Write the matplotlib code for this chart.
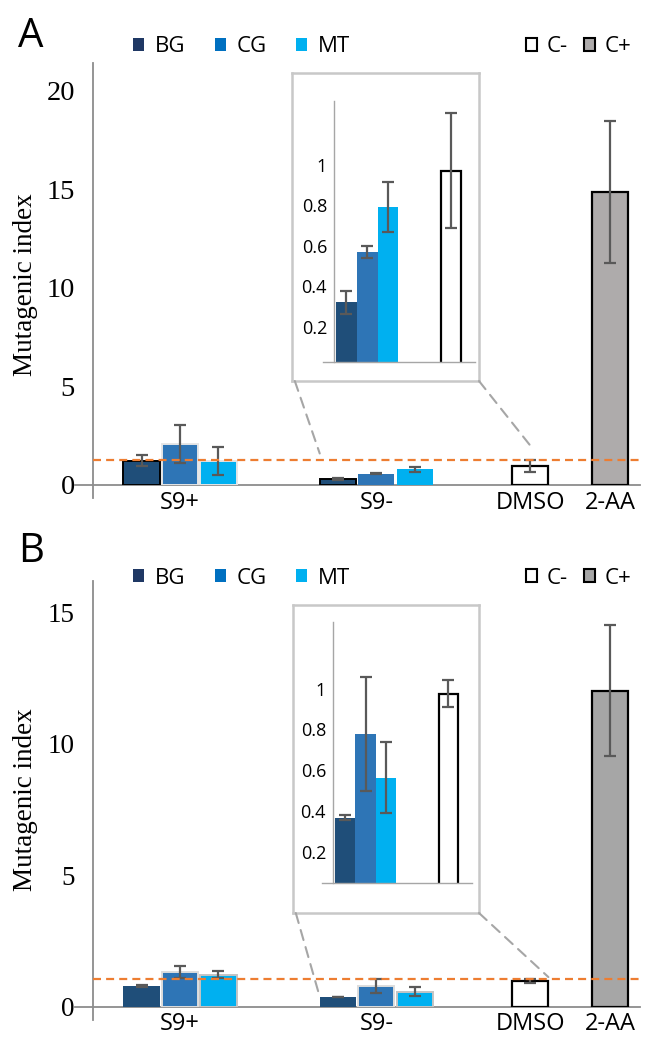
import matplotlib
matplotlib.use("Agg")
import matplotlib.pyplot as plt
from matplotlib.patches import Patch, ConnectionPatch

plt.rcParams["font.family"] = ["Open Sans", "DejaVu Sans"]
SERIF = "Liberation Serif"

W, H = 645, 1038

extracts = ["BG", "CG", "MT"]
categories = ["S9+", "S9-", "DMSO", "2-AA"]
inset_ticks = [0.2, 0.4, 0.6, 0.8, 1.0]
inset_ticklabels = ["0.2", "0.4", "0.6", "0.8", "1"]

# panel A
a_s9plus = [1.22, 2.08, 1.22]
a_s9plus_err = [0.28, 0.96, 0.72]
a_s9minus = [0.32, 0.57, 0.79]
a_s9minus_err = [0.056, 0.03, 0.124]
a_controls = [0.97, 14.87]          # DMSO (C-), 2-AA (C+)
a_controls_err = [0.285, 3.6]
a_threshold = 1.27
a_yticks = [0, 5, 10, 15, 20]

# panel B
b_s9plus = [0.79, 1.31, 1.21]
b_s9plus_err = [0.03, 0.22, 0.14]
b_s9minus = [0.367, 0.777, 0.563]
b_s9minus_err = [0.012, 0.28, 0.175]
b_controls = [0.976, 12.02]
b_controls_err = [0.065, 2.49]
b_threshold = 1.05
b_yticks = [0, 5, 10, 15]

bar_colors = ["#1f4e79", "#2e75b6", "#00b0f0"]
legend_colors = ["#1f3864", "#0070c0", "#00b0f0"]
err_kw = dict(ecolor="#595959", elinewidth=1.6, capsize=4.2, capthick=1.6)

group_x = [0.0, 5.1]
offsets = [-1.0, 0.0, 1.0]
ctrl_x = [9.1, 11.17]
width = 0.94
inset_x = [0, 1, 2]
inset_ctrl_x = 5.05


def px(left, top, right, bottom):
    return [left / W, 1 - bottom / H, (right - left) / W, (bottom - top) / H]


fig = plt.figure(figsize=(W / 100, H / 100), dpi=100)


def draw_panel(top, base, ymax, yticks, s9p, s9p_err, s9m, s9m_err, ctrl, ctrl_err,
               thr, pos_color, edges, frame_box, inset_box, inset_ylim,
               conn_left, conn_right, letter, letter_y, legend_y, label_y, tick_size):
    ax = fig.add_axes(px(93, top, 640, base))
    ax.set_xlim(-2.26, 11.95)
    ax.set_ylim(0, ymax)
    for spine in ax.spines.values():
        spine.set_visible(False)
    h = base - top
    w = 640 - 93
    ax.plot([0, 0], [-13 / h, 1], color="#8c8c8c", lw=1.3, transform=ax.transAxes, clip_on=False)
    ax.plot([-18 / w, 1], [0, 0], color="#8c8c8c", lw=1.3, transform=ax.transAxes, clip_on=False)

    for i in range(3):
        ax.bar(group_x[0] + offsets[i], s9p[i], width, color=bar_colors[i],
               edgecolor=edges[0][i], linewidth=1.4, yerr=s9p_err[i], error_kw=err_kw, zorder=2)
        ax.bar(group_x[1] + offsets[i], s9m[i], width, color=bar_colors[i],
               edgecolor=edges[1][i], linewidth=1.4, yerr=s9m_err[i], error_kw=err_kw, zorder=2)
    ax.bar(ctrl_x, ctrl, width, color=["white", pos_color], edgecolor="black",
           linewidth=1.6, yerr=ctrl_err, error_kw=err_kw, zorder=2)

    ax.axhline(thr, color="#ed7d31", lw=1.6, dashes=(3.6, 2.3), zorder=3)

    ax.set_yticks(yticks)
    ax.set_yticklabels([str(t) for t in yticks], fontfamily=SERIF, fontsize=tick_size)
    ax.tick_params(axis="y", length=0, pad=13)
    ax.set_xticks(group_x + ctrl_x)
    ax.set_xticklabels(categories, fontsize=17)
    ax.tick_params(axis="x", length=0, pad=4)

    fig.text(26 / W, 1 - label_y / H, "Mutagenic index", rotation=90, fontfamily=SERIF,
             fontsize=19.5, ha="center", va="center")
    fig.text(18 / W, 1 - letter_y / H, letter, fontsize=29, ha="left", va="center")

    # legends
    handles = [Patch(facecolor=c, edgecolor="none") for c in legend_colors]
    fig.legend(handles, extracts, loc="center left", bbox_to_anchor=(133 / W, 1 - legend_y / H),
               ncol=3, frameon=False, fontsize=16, handlelength=0.5, handleheight=0.5,
               handletextpad=0.5, columnspacing=1.3, borderpad=0, borderaxespad=0)
    ctrl_handles = [Patch(facecolor="white", edgecolor="black", linewidth=1.5),
                    Patch(facecolor=pos_color, edgecolor="black", linewidth=1.5)]
    fig.legend(ctrl_handles, ["C-", "C+"], loc="center left",
               bbox_to_anchor=(526 / W, 1 - legend_y / H), ncol=2, frameon=False,
               fontsize=16, handlelength=0.5, handleheight=0.5, handletextpad=0.45,
               columnspacing=0.7, borderpad=0, borderaxespad=0)

    # zoom box
    frame = fig.add_axes(px(*frame_box))
    frame.set_xticks([])
    frame.set_yticks([])
    for spine in frame.spines.values():
        spine.set_color("#c8c8c8")
        spine.set_linewidth(1.8)

    iax = fig.add_axes(px(*inset_box))
    iax.patch.set_alpha(0)
    iax.set_xlim(-0.6, 6.2)
    iax.set_ylim(*inset_ylim)
    iax.bar(inset_x, s9m, 1.0, color=bar_colors, yerr=s9m_err, error_kw=err_kw, zorder=2)
    iax.bar(inset_ctrl_x, ctrl[0], 0.95, color="white", edgecolor="black", linewidth=1.6,
            yerr=ctrl_err[0], error_kw=err_kw, zorder=2)
    for s in ["top", "right", "bottom"]:
        iax.spines[s].set_visible(False)
    iax.spines["left"].set_color("#a6a6a6")
    iax.spines["left"].set_linewidth(1.0)
    iw = inset_box[2] - inset_box[0]
    iax.plot([-11 / iw, 1], [0, 0], color="#a6a6a6", lw=1.0, transform=iax.transAxes, clip_on=False)
    iax.set_xticks([])
    iax.set_yticks(inset_ticks)
    iax.set_yticklabels(inset_ticklabels, fontsize=13)
    iax.tick_params(axis="y", length=0, pad=5)

    for xyA, xyB in [((0.015, 0), conn_left), ((1, 0), conn_right)]:
        con = ConnectionPatch(xyA=xyA, coordsA=frame.transAxes, xyB=xyB, coordsB=ax.transData,
                              color="#a6a6a6", lw=1.5, linestyle=(0, (5, 3.5)))
        fig.add_artist(con)


edges_a = [["black", "#e6e6e6", "#e6e6e6"], ["black", "none", "none"]]
edges_b = [["none", "#dddddd", "#c4c4c4"], ["none", "#dddddd", "#c4c4c4"]]

draw_panel(63, 485, 21.42, a_yticks, a_s9plus, a_s9plus_err, a_s9minus, a_s9minus_err,
           a_controls, a_controls_err, a_threshold, "#aeabab", edges_a,
           (292, 73, 479, 381), (334, 101, 475, 362), (0.025, 1.315),
           (group_x[1] + offsets[0] - width / 2, 1.6), (ctrl_x[0], 2.0),
           "A", 37, 47, 285, 20.5)

draw_panel(581, 1006.5, 16.2, b_yticks, b_s9plus, b_s9plus_err, b_s9minus, b_s9minus_err,
           b_controls, b_controls_err, b_threshold, "#a6a6a6", edges_b,
           (293, 605, 479, 913), (333, 622, 472, 883), (0.047, 1.327),
           (group_x[1] + offsets[0] - width / 2, 0.37), (ctrl_x[0] + width / 2, 1.12),
           "B", 552, 578, 800, 19.5)

fig.savefig("out.png", dpi=100)
